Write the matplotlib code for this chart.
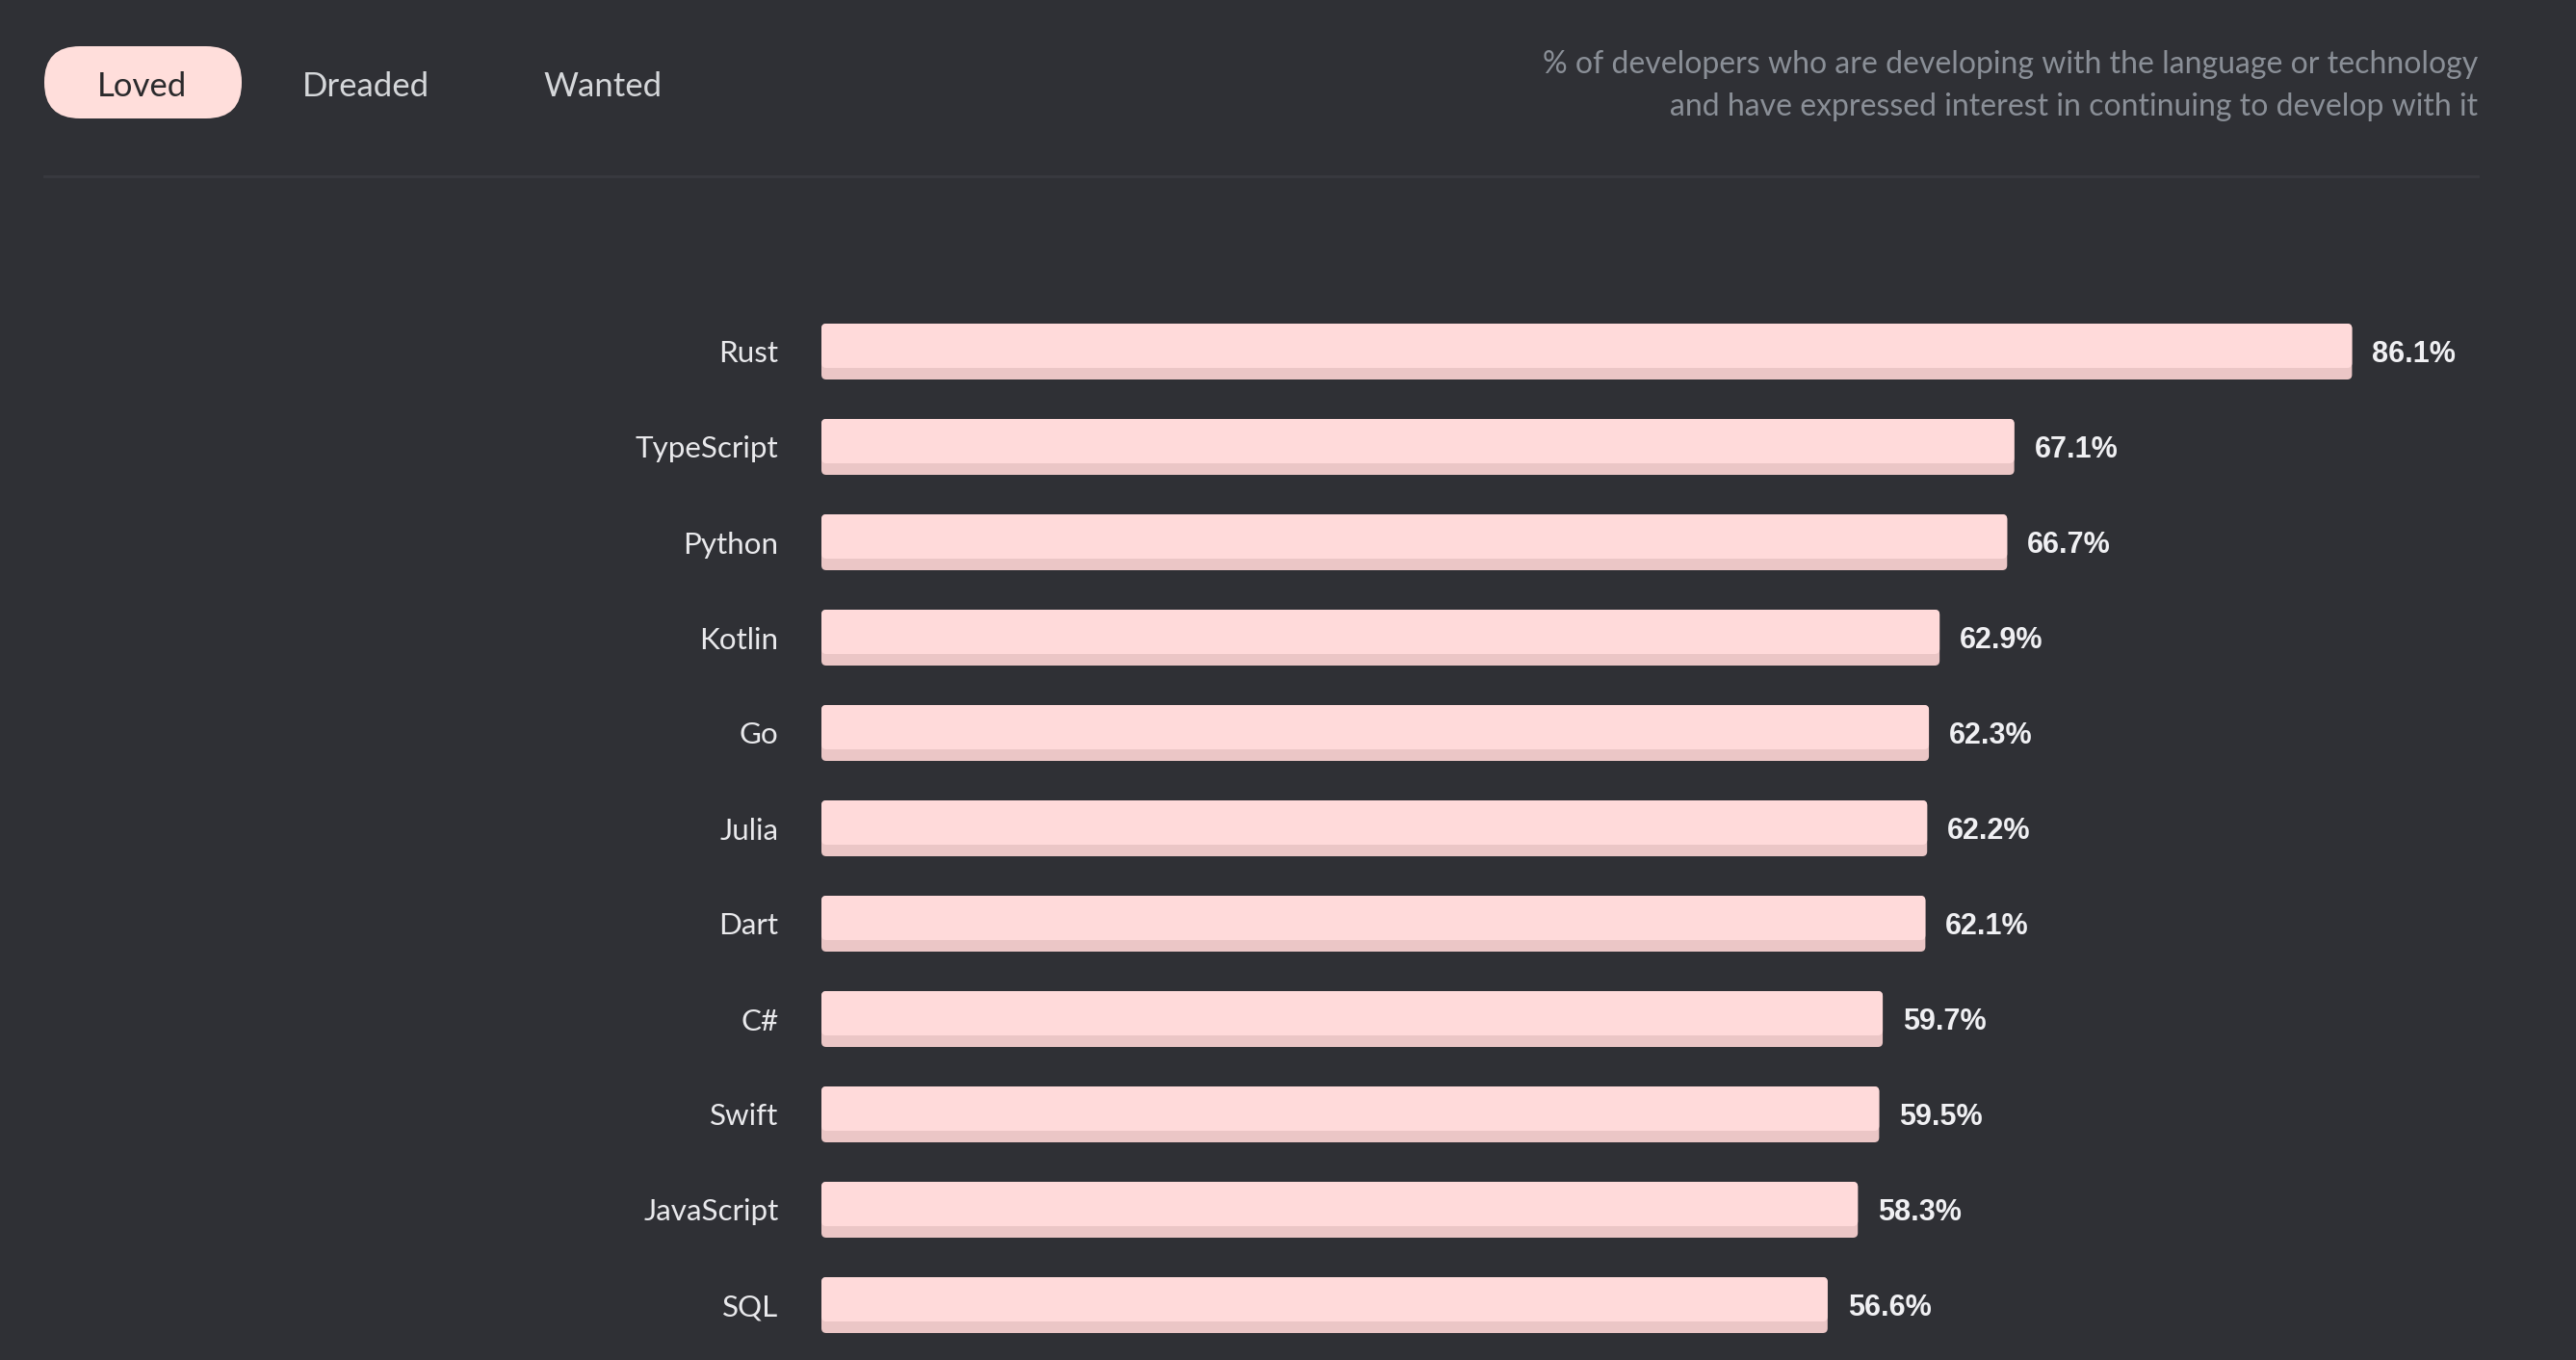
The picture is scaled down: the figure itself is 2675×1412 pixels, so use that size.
import matplotlib
matplotlib.use("Agg")
import matplotlib.pyplot as plt
from matplotlib.patches import FancyBboxPatch
from matplotlib.lines import Line2D

# ---- data ----
languages = ["Rust", "TypeScript", "Python", "Kotlin", "Go", "Julia", "Dart",
             "C#", "Swift", "JavaScript", "SQL"]
loved_pct = [86.1, 67.1, 66.7, 62.9, 62.3, 62.2, 62.1, 59.7, 59.5, 58.3, 56.6]
tabs = ["Loved", "Dreaded", "Wanted"]
subtitle_lines = ["% of developers who are developing with the language or technology",
                  "and have expressed interest in continuing to develop with it"]

# ---- style ----
BG = "#2f3035"
BAR = "#ffdada"
BAR_DARK = "#ebc6c6"
LABEL = "#e9e9ec"
VALUE = "#f0f0f3"
SUB = "#8a8f97"
TAB_TXT = "#d5d7da"
SEP = "#393a40"
FONT = ["Lato", "DejaVu Sans"]
VFONT = ["Liberation Sans", "DejaVu Sans"]

W, H = 2675, 1412
DPI = 100
fig = plt.figure(figsize=(W / DPI, H / DPI), dpi=DPI, facecolor=BG)

# header overlay in pixel coordinates
hx = fig.add_axes([0, 0, 1, 1])
hx.set_xlim(0, W)
hx.set_ylim(H, 0)
hx.axis("off")
hx.set_facecolor("none")

pill = FancyBboxPatch((46, 48), 205, 75, boxstyle="round,pad=0,rounding_size=37",
                      facecolor="#ffdedb", edgecolor="none")
hx.add_patch(pill)
tab_x = [148, 380, 626]
for i, (t, x) in enumerate(zip(tabs, tab_x)):
    hx.text(x, 90, t, ha="center", va="center", fontsize=25, family=FONT,
            color="#2a2a2c" if i == 0 else TAB_TXT)
hx.text(2573, 67, subtitle_lines[0], ha="right", va="center", fontsize=23,
        family=FONT, color=SUB)
hx.text(2573, 111, subtitle_lines[1], ha="right", va="center", fontsize=23,
        family=FONT, color=SUB)
hx.add_line(Line2D([46, 2573], [183, 183], color=SEP, lw=2))

# ---- bar axes ----
px_per_pct = 18.46
row_px = 99.0
x0_px, x1_px = 853, 2573
top_px, bot_px = 300, H
first_row_px = 365
ax = fig.add_axes([x0_px / W, 1 - bot_px / H, (x1_px - x0_px) / W, (bot_px - top_px) / H])
ax.set_facecolor("none")
ax.set_xlim(0, (x1_px - x0_px) / px_per_pct)
ax.set_ylim((bot_px - first_row_px) / row_px, -(first_row_px - top_px) / row_px)

bar_h = 58 / row_px
light_h = 46 / row_px
aspect = (1 / row_px) / (1 / px_per_pct)
rs = 5 / px_per_pct
for i, v in enumerate(loved_pct):
    y_top = i - bar_h / 2
    ax.add_patch(FancyBboxPatch((0, y_top), v, bar_h,
                                boxstyle=f"round,pad=0,rounding_size={rs}",
                                mutation_aspect=aspect, facecolor=BAR_DARK, edgecolor="none"))
    ax.add_patch(FancyBboxPatch((0, y_top), v, light_h,
                                boxstyle=f"round,pad=0,rounding_size={rs}",
                                mutation_aspect=aspect, facecolor=BAR, edgecolor="none"))
    ax.annotate(f"{v:.1f}%", xy=(v, i), xytext=(15, -2.5), textcoords="offset points",
                ha="left", va="center", fontsize=22, fontweight="bold",
                family=VFONT, color=VALUE)

ax.set_yticks(range(len(languages)))
ax.set_yticklabels(languages, family=FONT, fontsize=22.6, color=LABEL)
ax.tick_params(axis="y", length=0, pad=32)
ax.set_xticks([])
for s in ax.spines.values():
    s.set_visible(False)

fig.savefig("out.png", dpi=DPI, facecolor=BG)
